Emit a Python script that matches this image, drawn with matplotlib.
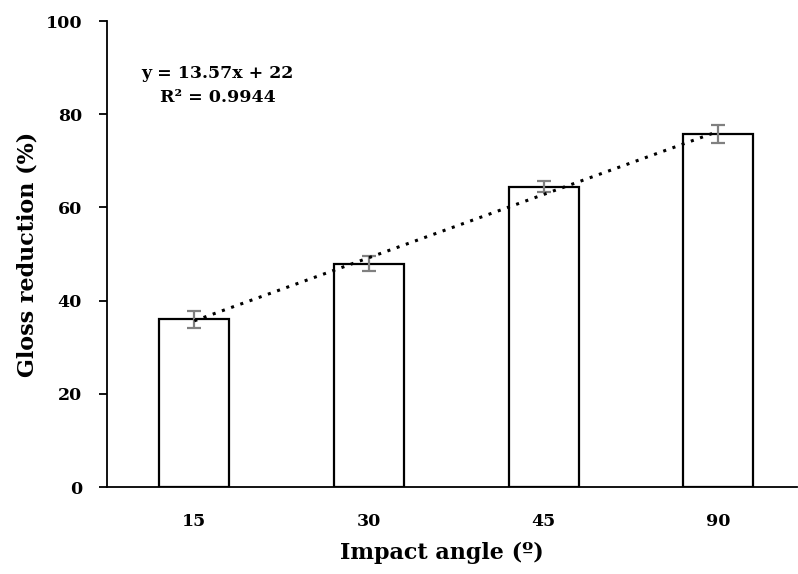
import numpy as np
import matplotlib
matplotlib.use("Agg")
import matplotlib.pyplot as plt

# data
angles = ["15", "30", "45", "90"]
gloss_reduction = [36.0, 47.9, 64.4, 75.7]
errors = [1.8, 1.6, 1.2, 1.9]

plt.rcParams['font.family'] = ['DejaVu Serif']
plt.rcParams['font.weight'] = 'bold'

fig = plt.figure(figsize=(7.98, 5.74), dpi=100)
ax = fig.add_axes([107 / 798, 1 - 487 / 574, 690 / 798, 466 / 574])

pos = np.arange(len(angles))
ax.bar(pos, gloss_reduction, width=0.4, color='white', edgecolor='black',
       linewidth=1.6, zorder=2)
ax.errorbar(pos, gloss_reduction, yerr=errors, fmt='none', ecolor='#808080',
            elinewidth=1.6, capsize=5, capthick=1.6, zorder=3)

# linear trend line
k, b = np.polyfit(pos + 1, gloss_reduction, 1)
ax.plot(pos, k * (pos + 1) + b, color='black', linestyle=(0, (1, 2.2)),
        linewidth=2.2, zorder=4)

ax.text(0.16, 0.862, 'y = 13.57x + 22\nR² = 0.9944', transform=ax.transAxes,
        ha='center', va='center', fontsize=12.5, fontweight='bold',
        linespacing=1.55)

ax.set_xlim(-0.5, 3.45)
ax.set_ylim(0, 100)
ax.set_yticks([0, 20, 40, 60, 80, 100])
ax.set_xticks(pos)
ax.set_xticklabels(angles)

ax.spines['top'].set_visible(False)
ax.spines['right'].set_visible(False)
ax.spines['left'].set_linewidth(1.3)
ax.spines['bottom'].set_linewidth(1.3)
ax.tick_params(axis='y', direction='out', length=6, width=1.3, pad=12,
               labelsize=12.5)
ax.tick_params(axis='x', length=0, pad=19, labelsize=12.5)
for lab in ax.get_xticklabels() + ax.get_yticklabels():
    lab.set_fontweight('bold')

ax.set_xlabel('Impact angle (º)', fontsize=16, fontweight='bold', labelpad=8)
ax.xaxis.label.set_x(0.485)
ax.set_ylabel('Gloss reduction (%)', fontsize=16, fontweight='bold', labelpad=5)

fig.savefig('out.png', dpi=100)
